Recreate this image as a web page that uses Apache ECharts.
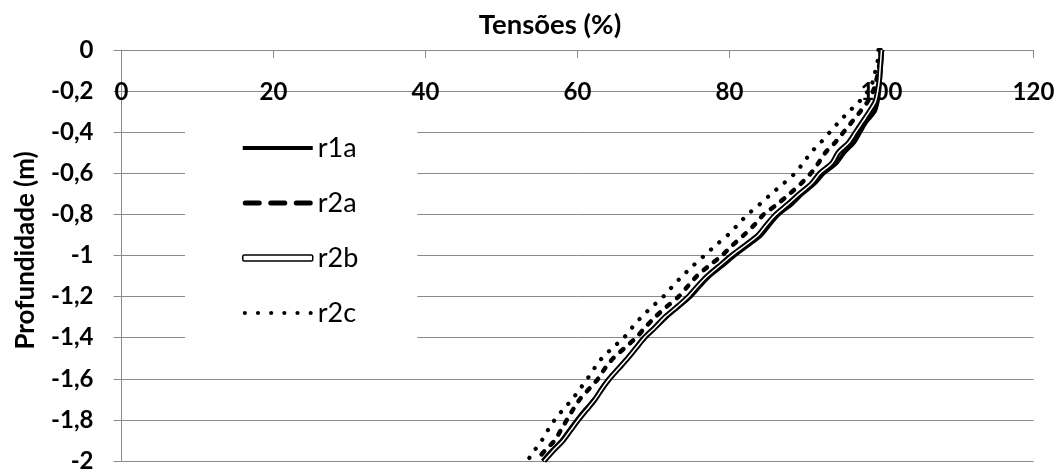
<!DOCTYPE html>
<html>
<head>
<meta charset="utf-8">
<script src="https://cdn.jsdelivr.net/npm/echarts@6/dist/echarts.min.js"></script>
<style>
html,body{margin:0;padding:0;background:#fff;}
#c{width:1059px;height:473px;}
</style>
</head>
<body>
<div id="c"></div>
<script>
const depths = [0,-0.05,-0.1,-0.15,-0.2,-0.25,-0.3,-0.35,-0.4,-0.45,-0.5,-0.55,-0.6,-0.65,-0.7,-0.75,-0.8,-0.85,-0.9,-0.95,-1.0,-1.05,-1.1,-1.15,-1.2,-1.25,-1.3,-1.35,-1.4,-1.45,-1.5,-1.55,-1.6,-1.65,-1.7,-1.75,-1.8,-1.85,-1.9,-1.95,-2.0];
const r1a = [100.1,100.0,99.9,99.8,99.7,99.5,99.1,98.0,97.2,96.4,95.1,94.1,92.4,91.2,89.6,88.2,86.5,85.3,84.2,82.5,80.7,79.1,77.4,76.1,74.9,73.3,71.7,70.3,68.9,67.7,66.6,65.3,64.1,63.1,62.2,61.0,59.9,58.9,57.9,56.6,55.4];
const r2a = [99.9,99.8,99.6,99.3,98.9,98.2,97.2,96.1,95.0,93.9,92.6,91.7,90.7,89.4,87.9,86.3,84.5,83.3,81.9,80.4,79.0,77.3,75.7,74.5,73.3,71.7,70.2,68.9,67.7,66.2,64.7,63.6,62.7,61.5,60.3,59.4,58.6,57.8,57.0,55.7,54.5];
const r2b = [100.0,99.9,99.8,99.7,99.5,99.2,98.4,97.5,96.6,95.7,94.3,93.5,91.9,90.8,89.2,87.7,86.1,84.9,83.8,82.1,80.3,78.7,77.1,75.8,74.6,73.1,71.5,70.2,68.8,67.7,66.6,65.4,64.2,63.2,62.3,61.2,60.1,59.1,58.1,56.8,55.6];
const r2c = [99.6,99.5,99.2,98.9,98.2,97.1,95.7,94.4,93.2,92.0,90.7,89.7,88.6,87.1,85.5,84.0,82.4,81.1,79.8,78.2,76.7,75.2,73.8,72.5,71.3,69.8,68.4,67.2,66.1,64.6,63.2,62.2,61.3,60.3,59.3,58.1,57.0,56.1,55.3,54.3,53.4];
const xTickLabels = ['0','20','40','60','80','100','120'];
const yTickLabels = ['0','-0,2','-0,4','-0,6','-0,8','-1','-1,2','-1,4','-1,6','-1,8','-2'];
const seriesNames = ['r1a','r2a','r2b','r2c'];
const titleText = 'Tensões (%)';
const yName = 'Profundidade (m)';

function pairs(vals){ return vals.map((v,i)=>[v, depths[i]]); }

// legend glyph shapes (70 x 6 box)
function dashIcon(){
  let p = 'path://';
  const w = 19, g = 6.5, h = 5, r = 2.5;
  for (let k = 0; k < 3; k++) {
    const x0 = k*(w+g);
    p += `M${x0+r},0.5H${x0+w-r}A${r},${r} 0 0,1 ${x0+w-r},${0.5+h}H${x0+r}A${r},${r} 0 0,1 ${x0+r},0.5Z`;
  }
  return p;
}
function dotIcon(){
  let p = 'path://';
  const n = 6, d = 4.2, r = d/2, span = 70;
  const step = (span - d)/(n-1);
  for (let k = 0; k < n; k++) {
    const cx = r + k*step;
    p += `M${cx-r},3A${r},${r} 0 1,0 ${cx+r},3A${r},${r} 0 1,0 ${cx-r},3Z`;
  }
  return p;
}
const solidIcon = 'path://M0,1H70V5H0Z';

const FONT = 'Lato';
const GRAY = '#898989';

const chart = echarts.init(document.getElementById('c'), null, {renderer:'canvas'});
const option = {
  backgroundColor:'#fff',
  animation:false,
  title:{
    text:titleText, left:545, top:6, textAlign:'center',
    textStyle:{fontFamily:FONT, fontWeight:'bold', fontSize:27.5, color:'#000'}
  },
  grid:{left:121.5, right:25.5, top:50, bottom:7.5, containLabel:false},
  xAxis:{
    type:'value', position:'top', min:0, max:120, interval:20,
    axisLine:{show:true, onZero:false, lineStyle:{color:GRAY, width:1}},
    axisTick:{show:true, inside:true, length:8, lineStyle:{color:GRAY}},
    splitLine:{show:false},
    axisLabel:{inside:true, margin:30, fontFamily:FONT, fontWeight:'bold', fontSize:24, color:'#000',
      formatter:(v,i)=>xTickLabels[i]}
  },
  yAxis:{
    type:'value', min:-2, max:0, interval:0.2,
    name:yName, nameLocation:'middle', nameGap:83, nameRotate:90,
    nameTextStyle:{fontFamily:FONT, fontWeight:'bold', fontSize:26, color:'#000', padding:[0,0,0,10]},
    axisLine:{show:true, onZero:false, lineStyle:{color:GRAY, width:1}},
    axisTick:{show:true, inside:false, length:8, lineStyle:{color:GRAY}},
    splitLine:{show:true, lineStyle:{color:GRAY, width:1}},
    axisLabel:{margin:28, fontFamily:FONT, fontWeight:'bold', fontSize:24, color:'#000',
      formatter:(v)=>{ const i = Math.round(-v/0.2); return yTickLabels[i]; }}
  },
  legend:{
    orient:'vertical', left:185, top:126, backgroundColor:'#fff',
    padding:[7,59,11,57], itemWidth:70, itemHeight:6, itemGap:25,
    textStyle:{fontFamily:FONT, fontSize:27, color:'#000', lineHeight:30},
    data:[
      {name:'r1a', icon:solidIcon, itemStyle:{color:'#000'}},
      {name:'r2a', icon:dashIcon(), itemStyle:{color:'#000'}},
      {name:'r2b', icon:'roundRect', itemStyle:{color:'#fff', borderColor:'#000', borderWidth:1.5}},
      {name:'r2c', icon:dotIcon(), itemStyle:{color:'#000'}}
    ]
  },
  series:[
    {name:'r2c', type:'line', data:pairs(r2c), showSymbol:false, symbol:'none', smooth:0.3, z:3,
     lineStyle:{color:'#000', width:4.2, type:[0.1,11], cap:'round'}, itemStyle:{color:'#000'}},
    {name:'r2a', type:'line', data:pairs(r2a), showSymbol:false, symbol:'none', smooth:0.3, z:3,
     lineStyle:{color:'#000', width:4.5, type:[4,9], cap:'round'}, itemStyle:{color:'#000'}},
    {name:'r1a', type:'line', data:pairs(r1a), showSymbol:false, symbol:'none', smooth:0.3, z:3,
     lineStyle:{color:'#000', width:4}, itemStyle:{color:'#000'}},
    {name:'r2b', type:'line', data:pairs(r2b), showSymbol:false, symbol:'none', smooth:0.3, z:4,
     lineStyle:{color:'#000', width:5.5}, itemStyle:{color:'#000'}},
    {name:'r2b', type:'line', data:pairs(r2b), showSymbol:false, symbol:'none', smooth:0.3, z:5,
     lineStyle:{color:'#fff', width:1.5}, itemStyle:{color:'#fff'}, legendHoverLink:false}
  ]
};
chart.setOption(option);
</script>
</body>
</html>
